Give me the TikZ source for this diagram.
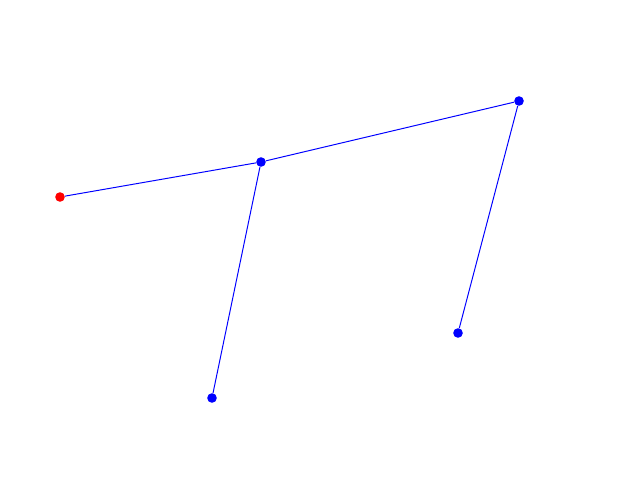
\documentclass[tikz,border=0pt]{standalone}
\usepackage{tikz}
\usepackage{xcolor}

\begin{document}
\begin{tikzpicture}[
    dot/.style={circle,fill=blue,inner sep=0pt,minimum size=0.24cm},
    rootdot/.style={dot,fill=red},
    link/.style={draw=blue,line width=0.7pt}
  ]
    \useasboundingbox (0,0) rectangle (16,12);
    \node[rootdot] (root) at (1.5,7.075) {};
    \node[dot] (hub) at (6.525,7.95) {};
    \node[dot] (top) at (12.975,9.475) {};
    \node[dot] (low) at (5.3,2.05) {};
    \node[dot] (mid) at (11.45,3.675) {};

    \draw[link] (root) -- (hub);
    \draw[link] (hub) -- (top);
    \draw[link] (hub) -- (low);
    \draw[link] (top) -- (mid);
  \end{tikzpicture}
\end{document}
